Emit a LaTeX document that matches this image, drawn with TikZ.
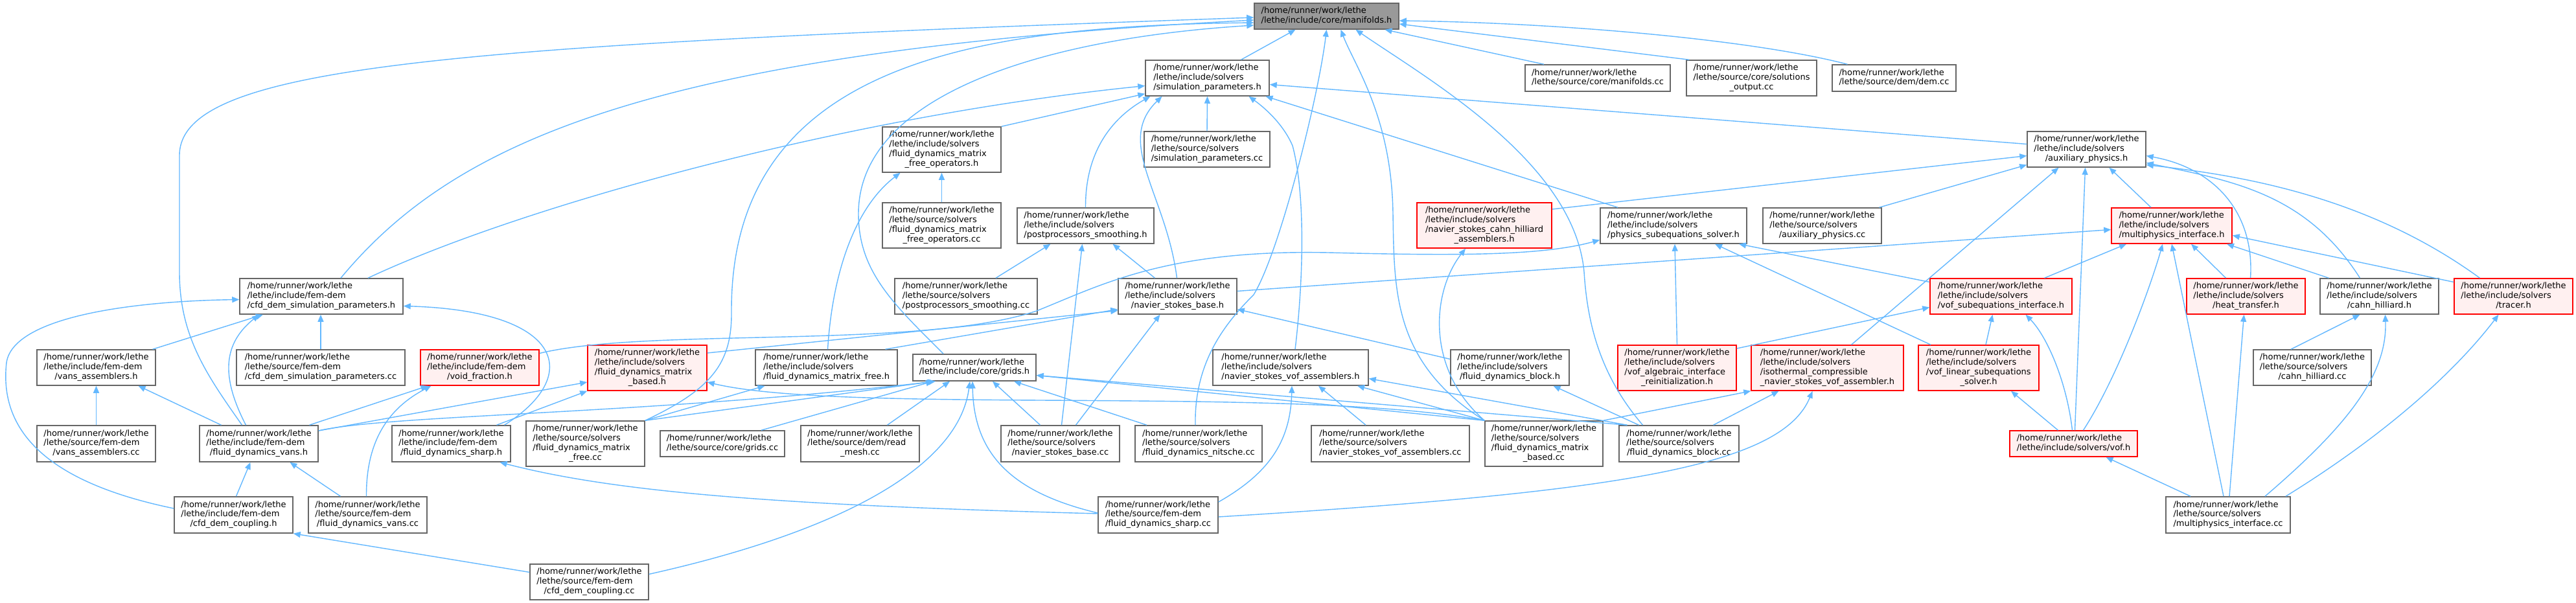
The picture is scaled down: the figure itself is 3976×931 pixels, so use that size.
\documentclass[tikz,border=0pt]{standalone}
\usepackage{fontspec}
\setmainfont{DejaVu Sans}
\usetikzlibrary{arrows.meta}
\definecolor{edgeblue}{HTML}{63B8FF}
\definecolor{greyforty}{HTML}{666666}
\definecolor{greysixty}{HTML}{999999}
\definecolor{pinkfill}{HTML}{FFF0F0}
\newcommand{\dxl}[2]{\begin{tabular}{@{}l@{}}#1\\\multicolumn{1}{@{}c@{}}{#2}\end{tabular}}
\tikzset{
  nbox/.style={draw=greyforty, line width=1.5pt, fill=white, inner sep=0pt, text=black,
    font=\fontsize{13}{14.8}\selectfont},
  rbox/.style={nbox, draw=red, fill=pinkfill},
  rootbox/.style={nbox, fill=greysixty},
  e/.style={draw=edgeblue, line width=1.4pt, -{Triangle[length=11pt,width=9pt]}}
}
\begin{document}
\begin{tikzpicture}[x=1pt,y=-1pt]
\fill[white] (0,0) rectangle (3976,931);
\useasboundingbox (0,0) rectangle (3976,931);

% ---------- nodes ----------
\node[rootbox, minimum width=223, minimum height=40] (manif) at (2047.5,25) {\dxl{/home/runner/work/lethe}{/lethe/include/core/manifolds.h}};
\node[nbox, minimum width=191, minimum height=55] (simp) at (1863.5,120.5) {\dxl{/home/runner/work/lethe\\/lethe/include/solvers}{/simulation\_parameters.h}};
\node[nbox, minimum width=224, minimum height=41] (manicc) at (2466,120.5) {\dxl{/home/runner/work/lethe}{/lethe/source/core/manifolds.cc}};
\node[nbox, minimum width=201, minimum height=55] (solout) at (2703.5,120.5) {\dxl{/home/runner/work/lethe\\/lethe/source/core/solutions}{\_output.cc}};
\node[nbox, minimum width=191, minimum height=41] (demcc) at (2923.5,120.5) {\dxl{/home/runner/work/lethe}{/lethe/source/dem/dem.cc}};
\node[nbox, minimum width=183, minimum height=55] (auxh) at (3220.5,230.5) {\dxl{/home/runner/work/lethe\\/lethe/include/solvers}{/auxiliary\_physics.h}};
\node[nbox, minimum width=252, minimum height=55] (cfdsp) at (496,457.5) {\dxl{/home/runner/work/lethe\\/lethe/include/fem-dem}{/cfd\_dem\_simulation\_parameters.h}};
\node[nbox, minimum width=183, minimum height=70] (mfoh) at (1453.5,231) {\dxl{/home/runner/work/lethe\\/lethe/include/solvers\\/fluid\_dynamics\_matrix}{\_free\_operators.h}};
\node[nbox, minimum width=194, minimum height=55] (simcc) at (1863,230.5) {\dxl{/home/runner/work/lethe\\/lethe/source/solvers}{/simulation\_parameters.cc}};
\node[nbox, minimum width=183, minimum height=70] (mfocc) at (1453.5,348) {\dxl{/home/runner/work/lethe\\/lethe/source/solvers\\/fluid\_dynamics\_matrix}{\_free\_operators.cc}};
\node[nbox, minimum width=211, minimum height=55] (pph) at (1675.5,348.5) {\dxl{/home/runner/work/lethe\\/lethe/include/solvers}{/postprocessors\_smoothing.h}};
\node[nbox, minimum width=220, minimum height=55] (ppcc) at (1491,457.5) {\dxl{/home/runner/work/lethe\\/lethe/source/solvers}{/postprocessors\_smoothing.cc}};
\node[nbox, minimum width=183, minimum height=55] (nsbh) at (1817.5,457.5) {\dxl{/home/runner/work/lethe\\/lethe/include/solvers}{/navier\_stokes\_base.h}};
\node[rbox, minimum width=208, minimum height=70] (nschah) at (2291,348) {\dxl{/home/runner/work/lethe\\/lethe/include/solvers\\/navier\_stokes\_cahn\_hilliard}{\_assemblers.h}};
\node[nbox, minimum width=226, minimum height=55] (pssh) at (2583,348.5) {\dxl{/home/runner/work/lethe\\/lethe/include/solvers}{/physics\_subequations\_solver.h}};
\node[nbox, minimum width=183, minimum height=55] (auxcc) at (2812.5,348.5) {\dxl{/home/runner/work/lethe\\/lethe/source/solvers}{/auxiliary\_physics.cc}};
\node[rbox, minimum width=186, minimum height=55] (mpih) at (3352,348.5) {\dxl{/home/runner/work/lethe\\/lethe/include/solvers}{/multiphysics\_interface.h}};
\node[nbox, minimum width=183, minimum height=55] (vah) at (148.5,567.5) {\dxl{/home/runner/work/lethe\\/lethe/include/fem-dem}{/vans\_assemblers.h}};
\node[nbox, minimum width=260, minimum height=55] (cfdspcc) at (495,567.5) {\dxl{/home/runner/work/lethe\\/lethe/source/fem-dem}{/cfd\_dem\_simulation\_parameters.cc}};
\node[rbox, minimum width=183, minimum height=55] (vfh) at (740.5,567.5) {\dxl{/home/runner/work/lethe\\/lethe/include/fem-dem}{/void\_fraction.h}};
\node[rbox, minimum width=184, minimum height=70] (mbh) at (999,568) {\dxl{/home/runner/work/lethe\\/lethe/include/solvers\\/fluid\_dynamics\_matrix}{\_based.h}};
\node[nbox, minimum width=219, minimum height=55] (mfh) at (1275.5,567.5) {\dxl{/home/runner/work/lethe\\/lethe/include/solvers}{/fluid\_dynamics\_matrix\_free.h}};
\node[nbox, minimum width=190, minimum height=41] (gridsh) at (1504,567.5) {\dxl{/home/runner/work/lethe}{/lethe/include/core/grids.h}};
\node[nbox, minimum width=240, minimum height=55] (nsvah) at (1992,567.5) {\dxl{/home/runner/work/lethe\\/lethe/include/solvers}{/navier\_stokes\_vof\_assemblers.h}};
\node[nbox, minimum width=183, minimum height=55] (fdbh) at (2330.5,567.5) {\dxl{/home/runner/work/lethe\\/lethe/include/solvers}{/fluid\_dynamics\_block.h}};
\node[rbox, minimum width=183, minimum height=70] (vofaih) at (2588.5,568) {\dxl{/home/runner/work/lethe\\/lethe/include/solvers\\/vof\_algebraic\_interface}{\_reinitialization.h}};
\node[rbox, minimum width=235, minimum height=70] (icnsh) at (2820.5,568) {\dxl{/home/runner/work/lethe\\/lethe/include/solvers\\/isothermal\_compressible}{\_navier\_stokes\_vof\_assembler.h}};
\node[rbox, minimum width=186, minimum height=70] (voflsh) at (3054,568) {\dxl{/home/runner/work/lethe\\/lethe/include/solvers\\/vof\_linear\_subequations}{\_solver.h}};
\node[rbox, minimum width=219, minimum height=55] (vofsih) at (3088.5,457.5) {\dxl{/home/runner/work/lethe\\/lethe/include/solvers}{/vof\_subequations\_interface.h}};
\node[rbox, minimum width=183, minimum height=55] (hth) at (3466.5,457.5) {\dxl{/home/runner/work/lethe\\/lethe/include/solvers}{/heat\_transfer.h}};
\node[nbox, minimum width=183, minimum height=55] (chh) at (3672.5,457.5) {\dxl{/home/runner/work/lethe\\/lethe/include/solvers}{/cahn\_hilliard.h}};
\node[rbox, minimum width=183, minimum height=55] (trh) at (3879.5,457.5) {\dxl{/home/runner/work/lethe\\/lethe/include/solvers}{/tracer.h}};
\node[nbox, minimum width=183, minimum height=56] (vacc) at (148.5,685) {\dxl{/home/runner/work/lethe\\/lethe/source/fem-dem}{/vans\_assemblers.cc}};
\node[nbox, minimum width=183, minimum height=56] (fdvh) at (399.5,685) {\dxl{/home/runner/work/lethe\\/lethe/include/fem-dem}{/fluid\_dynamics\_vans.h}};
\node[nbox, minimum width=183, minimum height=56] (fdsh) at (696.5,685) {\dxl{/home/runner/work/lethe\\/lethe/include/fem-dem}{/fluid\_dynamics\_sharp.h}};
\node[nbox, minimum width=183, minimum height=70] (mfcc) at (903.5,685) {\dxl{/home/runner/work/lethe\\/lethe/source/solvers\\/fluid\_dynamics\_matrix}{\_free.cc}};
\node[nbox, minimum width=192, minimum height=40] (gridscc) at (1115,685) {\dxl{/home/runner/work/lethe}{/lethe/source/core/grids.cc}};
\node[nbox, minimum width=183, minimum height=56] (rmcc) at (1327.5,685) {\dxl{/home/runner/work/lethe\\/lethe/source/dem/read}{\_mesh.cc}};
\node[nbox, minimum width=183, minimum height=56] (nsbcc) at (1636.5,685) {\dxl{/home/runner/work/lethe\\/lethe/source/solvers}{/navier\_stokes\_base.cc}};
\node[nbox, minimum width=196, minimum height=56] (nitcc) at (1850,685) {\dxl{/home/runner/work/lethe\\/lethe/source/solvers}{/fluid\_dynamics\_nitsche.cc}};
\node[nbox, minimum width=244, minimum height=56] (nsvacc) at (2146,685) {\dxl{/home/runner/work/lethe\\/lethe/source/solvers}{/navier\_stokes\_vof\_assemblers.cc}};
\node[nbox, minimum width=182, minimum height=70] (mbcc) at (2383,685) {\dxl{/home/runner/work/lethe\\/lethe/source/solvers\\/fluid\_dynamics\_matrix}{\_based.cc}};
\node[nbox, minimum width=185, minimum height=56] (fdbcc) at (2591.5,685) {\dxl{/home/runner/work/lethe\\/lethe/source/solvers}{/fluid\_dynamics\_block.cc}};
\node[nbox, minimum width=182, minimum height=55] (chcc) at (3569,567.5) {\dxl{/home/runner/work/lethe\\/lethe/source/solvers}{/cahn\_hilliard.cc}};
\node[rbox, minimum width=197, minimum height=40] (vofh) at (3200.5,685) {\dxl{/home/runner/work/lethe}{/lethe/include/solvers/vof.h}};
\node[nbox, minimum width=183, minimum height=56] (cfdch) at (360.5,795) {\dxl{/home/runner/work/lethe\\/lethe/include/fem-dem}{/cfd\_dem\_coupling.h}};
\node[nbox, minimum width=183, minimum height=56] (fdvcc) at (567.5,795) {\dxl{/home/runner/work/lethe\\/lethe/source/fem-dem}{/fluid\_dynamics\_vans.cc}};
\node[nbox, minimum width=185, minimum height=56] (fdscc) at (1787.5,795) {\dxl{/home/runner/work/lethe\\/lethe/source/fem-dem}{/fluid\_dynamics\_sharp.cc}};
\node[nbox, minimum width=192, minimum height=56] (mpicc) at (3439,795) {\dxl{/home/runner/work/lethe\\/lethe/source/solvers}{/multiphysics\_interface.cc}};
\node[nbox, minimum width=183, minimum height=55] (cfdccc) at (909.5,898.5) {\dxl{/home/runner/work/lethe\\/lethe/source/fem-dem}{/cfd\_dem\_coupling.cc}};

% ---------- edges into manifolds.h ----------
\draw[e] ([xshift=52]simp.north) -- ([xshift=-48]manif.south);
\draw[e] ([xshift=-83]manicc.north) -- ([xshift=90]manif.south);
\draw[e] ([xshift=5]solout.north west) -- ([yshift=-12]manif.east);
\draw[e] ([xshift=-72]demcc.north) .. controls (2700,60) and (2400,35) .. ([yshift=-7]manif.east);
\draw[e] ([xshift=-5]nitcc.north) .. controls (1843,560) and (1890,500) .. (1935,455) .. controls (1975,390) and (2035,150) .. ([xshift=0]manif.south);
\draw[e] (mbcc.north west) .. controls (2150,560) and (2152,450) .. (2150,330) .. controls (2148,180) and (2090,100) .. ([xshift=22]manif.south);
\draw[e] ([xshift=-56]fdbcc.north) .. controls (2470,580) and (2450,500) .. (2445,420) .. controls (2430,250) and (2200,120) .. ([xshift=45]manif.south);
\draw[e] ([xshift=-48]gridsh.north) .. controls (1380,470) and (1325,420) .. (1325,330) .. controls (1325,150) and (1600,60) .. ([yshift=-14]manif.west);
\draw[e] (mfcc.north east) .. controls (1100,600) and (1130,560) .. (1129,480) .. controls (1128,100) and (1500,40) .. ([yshift=-10]manif.west);
\draw[e] ([xshift=30]cfdsp.north) .. controls (700,220) and (1000,80) .. ([yshift=-6]manif.west);
\draw[e] ([xshift=-26]fdvh.north) .. controls (320,580) and (277,520) .. (277,420) -- (277,240) .. controls (277,100) and (700,70) .. ([yshift=-2]manif.west);

% ---------- edges into simulation_parameters.h ----------
\draw[e] ([xshift=72]cfdsp.north) .. controls (800,320) and (1300,180) .. ([yshift=-12]simp.west);
\draw[e] (mfoh.north east) -- ([yshift=4]simp.south west);
\draw[e] (pph.north) .. controls (1675,230) and (1720,180) .. ([xshift=-88]simp.south);
\draw[e] ([xshift=-1]nsbh.north) .. controls (1800,300) and (1720,220) .. ([xshift=-70]simp.south);
\draw[e] (simcc.north) -- (simp.south);
\draw[e] ([yshift=8]auxh.west) -- ([yshift=-10]simp.east);
\draw[e] ([xshift=-86]pssh.north) -- ([xshift=90]simp.south);
\draw[e] ([xshift=7]nsvah.north) .. controls (2012,430) and (2015,300) .. (1995,225) .. controls (1980,190) and (1950,165) .. ([xshift=64]simp.south);

% ---------- postprocessors / matrix free operators ----------
\draw[e] ([xshift=46]ppcc.north) -- ([xshift=-54]pph.south);
\draw[e] ([xshift=-35]nsbh.north) -- ([xshift=42]pph.south);
\draw[e] ([xshift=2]nsbcc.north) -- ([xshift=-5]pph.south);
\draw[e] (mfocc.north) -- (mfoh.south);
\draw[e] ([xshift=2]mfh.north) .. controls (1285,420) and (1320,320) .. ([xshift=-64]mfoh.south);

% ---------- navier_stokes_base.h ----------
\draw[e] ([yshift=23]mbh.east) -- ([yshift=-22]nsbh.west);
\draw[e] ([xshift=91]mfh.north) -- ([yshift=-20]nsbh.west);
\draw[e] ([xshift=24]nsbcc.north) -- ([xshift=-27]nsbh.south);
\draw[e] ([yshift=13]fdbh.west) -- ([yshift=-20]nsbh.east);

% ---------- grids.h ----------
\draw[e] ([yshift=20]fdvh.east) .. controls (600,640) and (1000,640) .. ([xshift=-60]gridsh.south);
\draw[e] (mfcc.north east) -- ([xshift=-62]gridsh.south);
\draw[e] ([xshift=60]gridscc.north) -- ([xshift=-64]gridsh.south);
\draw[e] ([xshift=42]rmcc.north) -- ([xshift=-38]gridsh.south);
\draw[e] ([yshift=3]fdscc.west) .. controls (1560,760) and (1503,700) .. ([xshift=-3]gridsh.south);
\draw[e] ([yshift=12]cfdccc.east) .. controls (1300,820) and (1480,720) .. ([xshift=-7]gridsh.south);
\draw[e] ([xshift=-31]nsbcc.north) -- ([xshift=28]gridsh.south);
\draw[e] ([xshift=-80]nitcc.north) -- ([xshift=61]gridsh.south);
\draw[e] (mbcc.north west) -- ([yshift=-12]gridsh.east);
\draw[e] ([xshift=-80]fdbcc.north) -- ([yshift=-12]gridsh.east);

% ---------- fem-dem and matrix based ----------
\draw[e] ([yshift=20]fdvh.east) -- ([yshift=-22]mbh.west);
\draw[e] ([xshift=70]fdsh.north) -- (mbh.south west);
\draw[e] (mbcc.north west) .. controls (2000,595) and (1300,640) .. ([yshift=-22]mbh.east);
\draw[e] ([xshift=78]fdvh.north) -- ([xshift=-80]vfh.south);
\draw[e] ([xshift=-2]fdvcc.north) .. controls (565,680) and (600,630) .. ([xshift=-75]vfh.south);
\draw[e] (vacc.north) -- (vah.south);
\draw[e] ([xshift=-58]fdvh.north) -- ([xshift=65]vah.south);
\draw[e] ([xshift=87]vah.north) -- ([xshift=-90]cfdsp.south);
\draw[e] (cfdspcc.north) -- ([xshift=-1]cfdsp.south);
\draw[e] ([xshift=-20]fdvh.north) .. controls (340,580) and (345,530) .. ([xshift=-96]cfdsp.south);
\draw[e] ([yshift=10]cfdch.west) .. controls (50,740) and (0,650) .. (10,560) .. controls (20,490) and (200,465) .. ([yshift=-5]cfdsp.west);
\draw[e] ([xshift=82]fdsh.north) .. controls (900,580) and (870,480) .. ([yshift=-15]cfdsp.east);
\draw[e] ([xshift=4]cfdch.north) -- ([xshift=-13]fdvh.south);
\draw[e] ([xshift=-42]fdvcc.north) -- ([xshift=48]fdvh.south);
\draw[e] ([yshift=15]cfdccc.west) -- (cfdch.south east);
\draw[e] ([yshift=2]fdscc.west) .. controls (1200,780) and (950,760) .. ([xshift=75]fdsh.south);
\draw[e] (mfcc.north east) -- ([xshift=-95]mfh.south);

% ---------- navier_stokes_vof_assemblers.h, block, cahn hilliard assemblers ----------
\draw[e] ([xshift=-38]nsvacc.north) -- ([xshift=43]nsvah.south);
\draw[e] (mbcc.north west) -- ([xshift=103]nsvah.south);
\draw[e] ([xshift=-80]fdbcc.north) -- ([yshift=-17]nsvah.east);
\draw[e] ([yshift=20]fdscc.east) .. controls (1960,730) and (1992,680) .. ([xshift=2]nsvah.south);
\draw[e] ([xshift=-62]fdbcc.north) -- ([xshift=67]fdbh.south);
\draw[e] (mbcc.north west) .. controls (2200,570) and (2210,450) .. ([xshift=-29]nschah.south);

% ---------- physics_subequations_solver.h ----------
\draw[e] ([yshift=22]vfh.east) .. controls (1000,505) and (1420,540) .. (1600,480) .. controls (1700,440) and (1800,385) .. (2050,390) .. controls (2250,395) and (2380,395) .. ([yshift=-22]pssh.west);
\draw[e] (vofaih.north) -- ([xshift=2]pssh.south);
\draw[e] ([xshift=-74]voflsh.north) -- ([xshift=64]pssh.south);
\draw[e] ([yshift=22]vofsih.west) -- ([xshift=101]pssh.south);

% ---------- auxiliary_physics.h ----------
\draw[e] ([yshift=25]nschah.east) -- ([yshift=-10]auxh.west);
\draw[e] ([xshift=88]auxcc.north) -- ([yshift=-24]auxh.west);
\draw[e] ([xshift=37]icnsh.north) -- ([xshift=-43]auxh.south);
\draw[e] ([xshift=2]vofh.north) -- ([xshift=-2]auxh.south);
\draw[e] ([xshift=-32]mpih.north) -- ([xshift=35]auxh.south);
\draw[e] ([xshift=7]hth.north) .. controls (3480,330) and (3420,260) .. ([yshift=-10]auxh.east);
\draw[e] ([xshift=-30]chh.north) .. controls (3560,300) and (3450,280) .. ([yshift=-21]auxh.east);
\draw[e] ([xshift=-52]trh.north) .. controls (3650,300) and (3450,270) .. ([yshift=-24]auxh.east);

% ---------- multiphysics_interface.h ----------
\draw[e] ([yshift=8]nsbh.east) -- ([yshift=-6]mpih.west);
\draw[e] ([xshift=67]vofsih.north) -- ([xshift=-70]mpih.south);
\draw[e] ([xshift=15]vofh.north) .. controls (3270,580) and (3320,440) .. ([xshift=-14]mpih.south);
\draw[e] ([xshift=-7]mpicc.north) -- (mpih.south);
\draw[e] ([xshift=-31]hth.north) -- ([xshift=30]mpih.south);
\draw[e] ([xshift=-78]chh.north) -- ([xshift=85]mpih.south);
\draw[e] ([yshift=22]trh.west) -- ([yshift=-15]mpih.east);

% ---------- vof family ----------
\draw[e] ([yshift=30]vofaih.east) -- ([yshift=-17]vofsih.west);
\draw[e] ([xshift=11]voflsh.north) -- ([xshift=-13]vofsih.south);
\draw[e] ([xshift=-2]vofh.north) .. controls (3190,590) and (3160,520) .. ([xshift=38]vofsih.south);
\draw[e] ([xshift=-24]vofh.north) -- ([xshift=50]voflsh.south);
\draw[e] (mbcc.north east) -- (icnsh.south west);
\draw[e] ([xshift=53]fdbcc.north) -- ([xshift=-75]icnsh.south);
\draw[e] ([yshift=-3]fdscc.east) .. controls (2500,760) and (2750,720) .. ([xshift=-23]icnsh.south);

% ---------- cahn_hilliard, heat transfer, tracer, vof ----------
\draw[e] ([xshift=-33]chcc.north) -- ([xshift=-30]chh.south);
\draw[e] ([xshift=57]mpicc.north) .. controls (3620,660) and (3685,580) .. ([xshift=9]chh.south);
\draw[e] ([xshift=2]mpicc.north) -- ([xshift=-3]hth.south);
\draw[e] ([xshift=89]mpicc.north) .. controls (3700,660) and (3800,560) .. ([xshift=-23]trh.south);
\draw[e] ([xshift=-58]mpicc.north) -- ([xshift=50]vofh.south);
\end{tikzpicture}
\end{document}
